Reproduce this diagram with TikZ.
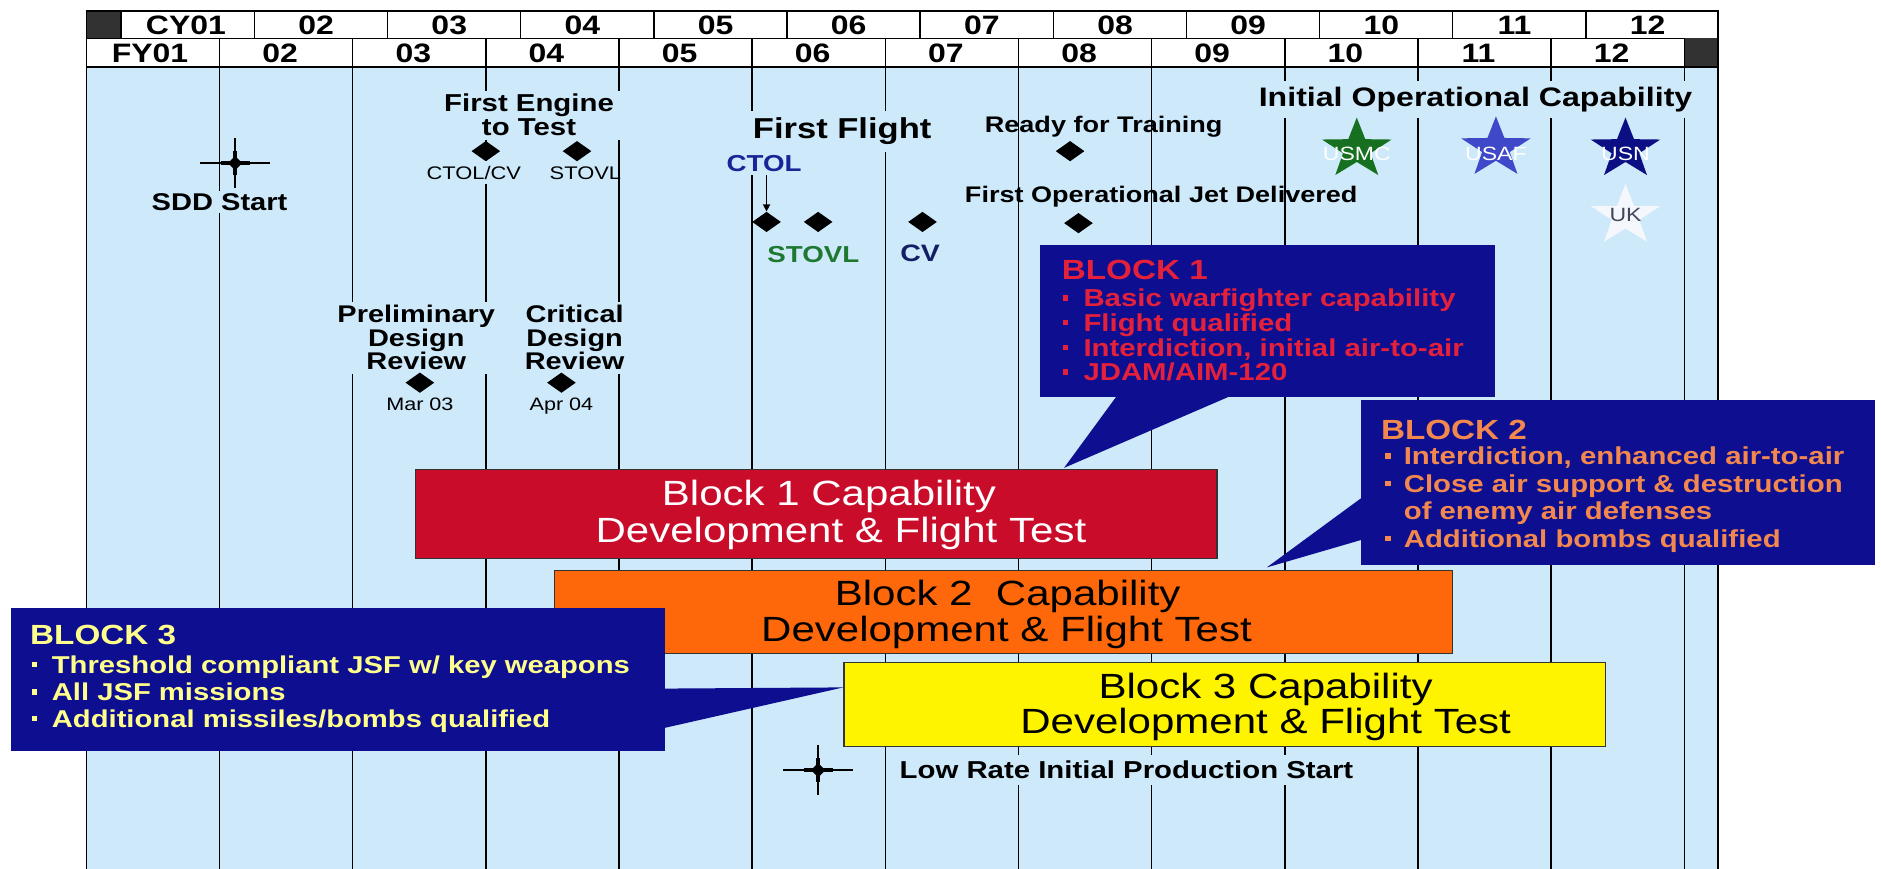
\documentclass[tikz,border=0pt]{standalone}
\usepackage{fontspec}
\setmainfont{Liberation Sans}[FakeStretch=1.2]
\usetikzlibrary{shapes.geometric,arrows.meta}
\definecolor{bgblue}{RGB}{205,233,250}
\definecolor{darkcell}{RGB}{50,50,50}
\definecolor{callnavy}{RGB}{14,14,145}
\definecolor{barred}{RGB}{200,12,42}
\definecolor{barorange}{RGB}{255,104,10}
\definecolor{baryellow}{RGB}{255,244,0}
\definecolor{txtred}{RGB}{228,32,58}
\definecolor{txtorange}{RGB}{242,136,78}
\definecolor{txtyellow}{RGB}{255,255,140}
\definecolor{ctolblue}{RGB}{26,36,150}
\definecolor{stovlgreen}{RGB}{30,120,50}
\definecolor{cvnavy}{RGB}{20,30,100}
\definecolor{stargreen}{RGB}{22,112,32}
\definecolor{starblue}{RGB}{62,72,200}
\definecolor{starnavy}{RGB}{12,14,132}
\definecolor{starwhite}{RGB}{244,248,252}
\definecolor{ukgray}{RGB}{70,70,90}
\newcommand\fsz[2]{\fontsize{#1}{#2}\selectfont}
\begin{document}
\begin{tikzpicture}[x=1pt,y=-1pt,
 gridl/.style={line width=1.2pt},
 hd/.style={font=\bfseries\fsz{22.2}{22.2}, anchor=base, inner sep=0pt},
 lbl/.style={anchor=base, inner sep=2pt},
 bgl/.style={lbl, fill=bgblue},
 dmd/.style={diamond, fill=black, minimum width=24pt, minimum height=17pt, inner sep=0pt},
 bar/.style={draw=black!80, line width=1pt, anchor=north west, inner sep=0pt},
 barline/.style={font=\fsz{29.2}{29.2}, anchor=base, inner sep=0pt},
 callbox/.style={fill=callnavy, anchor=north west, inner sep=0pt},
 chead/.style={font=\bfseries\fsz{23.1}{23.1}, anchor=base west, inner sep=0pt},
 cline/.style={font=\bfseries\fsz{20.4}{20.4}, anchor=base west, inner sep=0pt},
 bsq/.style={rectangle, minimum size=4.5pt, inner sep=0pt},
 startxt/.style={font=\fsz{16}{16}, anchor=base, inner sep=0pt},
 jstar/.pic={\fill[pic actions, xscale=1.15] (270:26.5) -- (306:10.5) -- (342:26.5) -- (18:10.5) -- (54:26.5) -- (90:10.5) -- (126:26.5) -- (162:10.5) -- (198:26.5) -- (234:10.5) -- cycle;},
 xcross/.pic={
   \draw[line width=1.3pt] (-29,0) -- (29,0) (0,-21) -- (0,21);
   \draw[line width=3.8pt] (-12,0) -- (12,0) (0,-10) -- (0,10);
   \fill (-6,0) -- (0,-6) -- (6,0) -- (0,6) -- cycle;}
]
\useasboundingbox (0,0) rectangle (1568,724);
\fill[white] (0,0) rectangle (1568,724);
% chart body
\fill[bgblue] (72,56) rectangle (1432,724);
\foreach \i in {0,...,12} \draw[gridl] ({72+111*\i},56) -- ({72+111*\i},724);
\draw[gridl] (1432,56) -- (1432,724);
% header
\draw[gridl, fill=white] (72,9) rectangle (1432,32);
\draw[gridl, fill=white] (72,32) rectangle (1432,56);
\fill[darkcell] (72,9) rectangle (101,32);
\fill[darkcell] (1404,32) rectangle (1432,56);
\foreach \i in {0,...,11} \draw[gridl] ({101+111*\i},9) -- ({101+111*\i},32);
\foreach \i in {1,...,12} \draw[gridl] ({72+111*\i},32) -- ({72+111*\i},56);
\draw[gridl] (72,9) rectangle (1432,56);
\node[hd] (cy01) at (155,28.5) {CY01};
\foreach \lab [count=\k] in {02,03,04,05,06,07,08,09,10,11,12}
  \node[hd] (cy\lab) at ({101+111*\k+51.5},28.5) {\lab};
\node[hd] (fy01) at (125,52) {FY01};
\foreach \lab [count=\k] in {02,03,04,05,06,07,08,09,10,11,12}
  \node[hd] (fy\lab) at ({72+111*\k+50.5},52) {\lab};
% milestones
\pic at (196,136) {xcross};
\node[bgl, font=\bfseries\fsz{20.2}{20.2}] (sdd) at (183,175.3) {SDD Start};
\node[fill=bgblue, inner xsep=6pt, inner ysep=3pt, align=center, font=\bfseries\fsz{20.4}{20}] (eng) at (441,96) {First Engine\\to Test};
\node[dmd] (dE1) at (405,126) {};
\node[dmd] (dE2) at (481,126) {};
\node[bgl, inner ysep=4pt, font=\fsz{15.2}{15.2}] (ectol) at (395,149.5) {CTOL/CV};
\node[lbl, font=\fsz{15.2}{15.2}] (estovl) at (488,149.5) {STOVL};
\node[bgl, inner ysep=6pt, font=\bfseries\fsz{24}{24}] (ff) at (702,115.6) {First Flight};
\node[bgl, inner ysep=3pt, text=ctolblue, font=\bfseries\fsz{19.25}{19.25}] (ctol) at (637,142.9) {CTOL};
\node[dmd] (dF1) at (639,185) {};
\node[dmd] (dF2) at (682,185) {};
\node[dmd] (dF3) at (769,185) {};
\draw[-{Triangle[length=6pt,width=6pt]}, line width=1.2pt] (ctol.south -| dF1.north) -- (dF1.north);
\node[lbl, text=stovlgreen, font=\bfseries\fsz{19.25}{19.25}] (fstovl) at (678,218.9) {STOVL};
\node[lbl, text=cvnavy, font=\bfseries\fsz{19.8}{19.8}] (fcv) at (767,218.1) {CV};
\node[lbl, font=\bfseries\fsz{18.8}{18.8}] (rft) at (920,110.8) {Ready for Training};
\node[dmd] (dR) at (892,126) {};
\node[lbl, font=\bfseries\fsz{18.8}{18.8}] (fojd) at (968,168.8) {First Operational Jet Delivered};
\node[dmd] (dJ) at (899,186) {};
\node[bgl, inner ysep=5pt, font=\bfseries\fsz{22.3}{22.3}] (ioc) at (1230,89) {Initial Operational Capability};
% stars
\pic[fill=stargreen] at (1131,124.5) {jstar};
\node[startxt, text=white] (usmc) at (1131,133.8) {USMC};
\pic[fill=starblue] at (1247,123.5) {jstar};
\node[startxt, text=white] (usaf) at (1247,133.8) {USAF};
\pic[fill=starnavy] at (1355,124.5) {jstar};
\node[startxt, text=white] (usn) at (1355,133.8) {USN};
\pic[fill=starwhite] at (1355,180) {jstar};
\node[startxt, text=ukgray] (uk) at (1355,184.8) {UK};
% design reviews
\node[fill=bgblue, inner sep=3pt, align=center, font=\bfseries\fsz{20.1}{19.5}] (pdr) at (347,281.5) {Preliminary\\Design\\Review};
\node[fill=bgblue, inner sep=3pt, align=center, font=\bfseries\fsz{20.1}{19.5}] (cdr) at (479,281.5) {Critical\\Design\\Review};
\node[dmd] (dP) at (350,319) {};
\node[dmd] (dC) at (468,319) {};
\node[lbl, font=\fsz{15}{15}] (mar) at (350,342.4) {Mar 03};
\node[lbl, font=\fsz{15}{15}] (apr) at (468,342.4) {Apr 04};
% bars
\node[bar, fill=barred, minimum width=668pt, minimum height=74pt] (bar1) at (346,391) {};
\node[barline, text=white] (bar1a) at (691,421.5) {Block 1 Capability};
\node[barline, text=white] (bar1b) at (701,452.5) {Development \& Flight Test};
\node[bar, fill=barorange, minimum width=748pt, minimum height=69pt] (bar2) at (462,475) {};
\node[barline] (bar2a) at (840,504.5) {Block 2~ Capability};
\node[barline] (bar2b) at (839,534.5) {Development \& Flight Test};
\node[bar, fill=baryellow, minimum width=635pt, minimum height=70pt] (bar3) at (703,552) {};
\node[barline] (bar3a) at (1055,582.5) {Block 3 Capability};
\node[barline] (bar3b) at (1055,611.5) {Development \& Flight Test};
% callout block 1
\coordinate (t1) at (887,390);
\fill[callnavy] (931,330) -- (1026,330) -- (t1) -- cycle;
\node[callbox, minimum width=379pt, minimum height=127pt] (box1) at (867,204) {};
\node[chead, text=txtred] (b1h) at (885,233.3) {BLOCK 1};
\node[bsq, fill=txtred] (b1s1) at (888,248.5) {};
\node[bsq, fill=txtred] (b1s2) at (888,269) {};
\node[bsq, fill=txtred] (b1s3) at (888,289.5) {};
\node[bsq, fill=txtred] (b1s4) at (888,310) {};
\node[cline, text=txtred] (b1l1) at (903,255.8) {Basic warfighter capability};
\node[cline, text=txtred] (b1l2) at (903,276.3) {Flight qualified};
\node[cline, text=txtred] (b1l3) at (903,296.8) {Interdiction, initial air-to-air};
\node[cline, text=txtred] (b1l4) at (903,317.3) {JDAM/AIM-120};
% callout block 2
\coordinate (t2) at (1056,473);
\fill[callnavy] (1135,415) -- (1135,450) -- (t2) -- cycle;
\node[callbox, minimum width=429pt, minimum height=138pt] (box2) at (1134,333) {};
\node[chead, text=txtorange] (b2h) at (1151,366.3) {BLOCK 2};
\node[bsq, fill=txtorange] (b2s1) at (1157,380) {};
\node[bsq, fill=txtorange] (b2s2) at (1157,403) {};
\node[bsq, fill=txtorange] (b2s4) at (1157,449) {};
\node[cline, text=txtorange] (b2l1) at (1170,387.3) {Interdiction, enhanced air-to-air};
\node[cline, text=txtorange] (b2l2) at (1170,410.3) {Close air support \& destruction};
\node[cline, text=txtorange] (b2l3) at (1170,433.3) {of enemy air defenses};
\node[cline, text=txtorange] (b2l4) at (1170,456.3) {Additional bombs qualified};
% callout block 3
\coordinate (t3) at (703,573);
\fill[callnavy] (553,574) -- (553,607) -- (t3) -- cycle;
\node[callbox, minimum width=545pt, minimum height=119pt] (box3) at (9,507) {};
\node[chead, text=txtyellow] (b3h) at (25,537.3) {BLOCK 3};
\node[bsq, fill=txtyellow] (b3s1) at (29,554) {};
\node[bsq, fill=txtyellow] (b3s2) at (29,577) {};
\node[bsq, fill=txtyellow] (b3s3) at (29,599) {};
\node[cline, text=txtyellow, font=\bfseries\fsz{20.3}{20.3}] (b3l1) at (43,561.3) {Threshold compliant JSF w/ key weapons};
\node[cline, text=txtyellow, font=\bfseries\fsz{20.3}{20.3}] (b3l2) at (43,584.3) {All JSF missions};
\node[cline, text=txtyellow, font=\bfseries\fsz{20.3}{20.3}] (b3l3) at (43,606.3) {Additional missiles/bombs qualified};
% LRIP
\pic at (682,642) {xcross};
\node[bgl, inner xsep=8pt, inner ysep=5pt, font=\bfseries\fsz{20.4}{20.4}] (lrip) at (939,649.3) {Low Rate Initial Production Start};
\end{tikzpicture}
\end{document}
